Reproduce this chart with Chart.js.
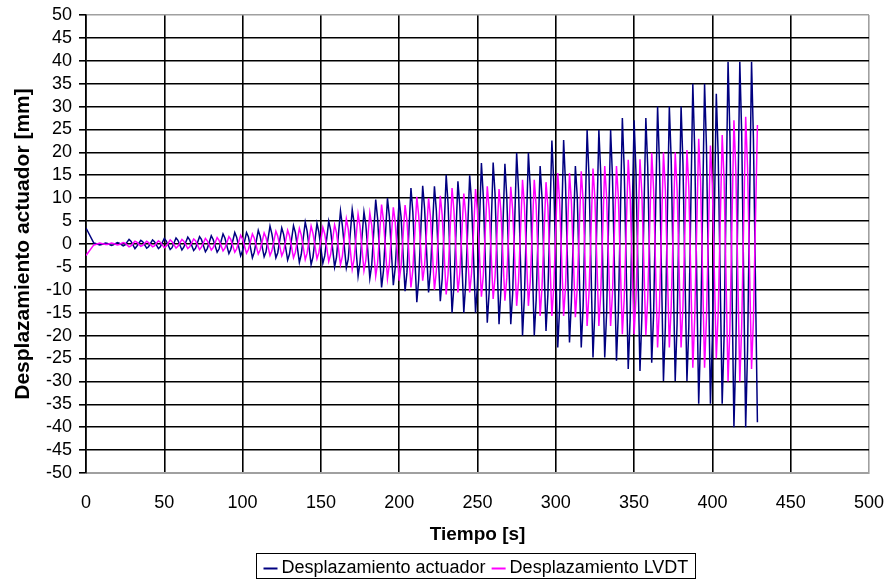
<!DOCTYPE html>
<html>
<head>
<meta charset="utf-8">
<title>Desplazamiento</title>
<script src="https://cdn.jsdelivr.net/npm/chart.js@4.4.1/dist/chart.umd.min.js"></script>
<style>
  html, body { margin: 0; padding: 0; background: #fff; }
  canvas { display: block; }
</style>
</head>
<body>
<canvas id="grafico" width="886" height="580"></canvas>
<script>
// Instantes [s]: por ciclo -> pico, retorno, valle, retorno
const tiempo = [0,
  5, 6.2, 8.75, 9.95,  12.5, 13.7, 16.25, 17.45,  20, 21.2, 23.75, 24.95,  27.5, 28.7, 31.25, 32.45,
  35, 36.2, 38.75, 39.95,  42.5, 43.7, 46.25, 47.45,  50, 51.2, 53.75, 54.95,  57.5, 58.7, 61.25, 62.45,
  65, 66.2, 68.75, 69.95,  72.5, 73.7, 76.25, 77.45,  80, 81.2, 83.75, 84.95,  87.5, 88.7, 91.25, 92.45,
  95, 96.2, 98.75, 99.95,  102.5, 103.7, 106.25, 107.45,  110, 111.2, 113.75, 114.95,  117.5, 118.7, 121.25, 122.45,
  125, 126.2, 128.75, 129.95,  132.5, 133.7, 136.25, 137.45,  140, 141.2, 143.75, 144.95,  147.5, 148.7, 151.25, 152.45,
  155, 156.2, 158.75, 159.95,  162.5, 163.7, 166.25, 167.45,  170, 171.2, 173.75, 174.95,  177.5, 178.7, 181.25, 182.45,
  185, 186.2, 188.75, 189.95,  192.5, 193.7, 196.25, 197.45,  200, 201.2, 203.75, 204.95,  207.5, 208.7, 211.25, 212.45,
  215, 216.2, 218.75, 219.95,  222.5, 223.7, 226.25, 227.45,  230, 231.2, 233.75, 234.95,  237.5, 238.7, 241.25, 242.45,
  245, 246.2, 248.75, 249.95,  252.5, 253.7, 256.25, 257.45,  260, 261.2, 263.75, 264.95,  267.5, 268.7, 271.25, 272.45,
  275, 276.2, 278.75, 279.95,  282.5, 283.7, 286.25, 287.45,  290, 291.2, 293.75, 294.95,  297.5, 298.7, 301.25, 302.45,
  305, 306.2, 308.75, 309.95,  312.5, 313.7, 316.25, 317.45,  320, 321.2, 323.75, 324.95,  327.5, 328.7, 331.25, 332.45,
  335, 336.2, 338.75, 339.95,  342.5, 343.7, 346.25, 347.45,  350, 351.2, 353.75, 354.95,  357.5, 358.7, 361.25, 362.45,
  365, 366.2, 368.75, 369.95,  372.5, 373.7, 376.25, 377.45,  380, 381.2, 383.75, 384.95,  387.5, 388.7, 391.25, 392.45,
  395, 396.2, 398.75, 399.95,  402.5, 403.7, 406.25, 407.45,  410, 411.2, 413.75, 414.95,  417.5, 418.7, 421.25, 422.45,
  425, 426.2, 428.75];

// Desplazamiento actuador [mm]
const actuador = [3.5,
  0.2, 0.1, -0.2, -0.1,  0.2, 0.1, -0.3, -0.2,  0.3, 0.2, -0.4, -0.2,  1.0, 0.6, -1.0, -0.5,
  0.8, 0.5, -0.9, -0.6,  0.9, 0.5, -1.0, -0.6,  1.2, 0.7, -1.2, -0.8,  1.3, 0.8, -1.3, -0.7,
  1.5, 0.9, -1.4, -0.9,  1.6, 1.0, -1.7, -1.0,  1.8, 1.0, -1.8, -1.1,  2.2, 1.3, -2.1, -1.2,
  2.5, 1.5, -2.6, -1.5,  2.5, 1.6, -3.0, -1.8,  3.0, 1.7, -2.8, -1.7,  3.9, 2.2, -3.0, -1.9,
  3.5, 2.1, -3.5, -2.2,  4.0, 2.5, -4.0, -2.3,  4.8, 2.8, -4.5, -2.8,  4.5, 2.6, -4.2, -2.6,
  5.0, 3.1, -5.0, -2.9,  7.2, 4.0, -5.2, -3.3,  7.5, 4.6, -7.0, -4.1,  7.0, 4.2, -7.5, -4.6,
  9.7, 5.6, -9.5, -5.8,  10.0, 6.1, -9.0, -5.2,  9.7, 5.9, -10.3, -6.2,  12.2, 7.0, -12.7, -7.8,
  12.7, 7.8, -10.6, -6.1,  12.6, 7.4, -12.5, -7.6,  15.1, 8.8, -15.0, -9.1,  13.7, 8.3, -15.0, -8.7,
  15.0, 9.2, -15.0, -9.0,  17.7, 10.4, -17.2, -10.5,  17.8, 10.9, -17.5, -10.1,  17.5, 10.2, -17.5, -10.8,
  19.9, 11.8, -20.0, -11.6,  19.9, 12.2, -20.0, -12.3,  17.0, 10.1, -19.0, -11.0,  22.6, 13.4, -22.6, -13.9,
  22.7, 13.1, -21.5, -12.6,  17.0, 10.3, -22.6, -13.5,  24.9, 14.8, -24.8, -14.4,  24.9, 15.3, -24.8, -15.1,
  24.9, 14.5, -25.5, -14.9,  27.5, 16.2, -27.3, -16.5,  27.0, 15.6, -27.7, -16.1,  27.5, 16.8, -25.9, -15.4,
  30.0, 17.6, -29.9, -18.2,  30.0, 18.3, -29.9, -17.4,  30.0, 17.5, -29.9, -18.0,  35.0, 20.6, -34.9, -20.2,
  35.0, 21.3, -34.9, -21.0,  32.8, 19.4, -34.9, -20.5,  39.8, 23.5, -40.0, -23.8,  39.8, 24.1, -40.0, -23.2,
  39.8, 23.0, -38.9];

// Desplazamiento LVDT [mm] (en contrafase con el actuador)
const lvdt = [-2.5,
  -0.2, -0.1, 0.2, 0.1,  -0.1, -0.1, 0.2, 0.1,  -0.2, -0.1, 0.3, 0.2,  -0.6, -0.4, 0.6, 0.4,
  -0.5, -0.3, 0.6, 0.3,  -0.6, -0.4, 0.7, 0.4,  -0.8, -0.5, 0.9, 0.5,  -0.9, -0.5, 1.0, 0.6,
  -1.0, -0.6, 1.1, 0.7,  -1.2, -0.7, 1.2, 0.7,  -1.3, -0.8, 1.4, 0.8,  -1.5, -0.9, 1.6, 1.0,
  -1.8, -1.1, 1.9, 1.1,  -2.0, -1.2, 2.2, 1.3,  -2.2, -1.3, 2.4, 1.4,  -2.5, -1.5, 2.8, 1.7,
  -2.6, -1.6, 3.0, 1.8,  -3.0, -1.8, 3.4, 2.0,  -3.4, -2.0, 3.9, 2.3,  -3.2, -1.9, 3.6, 2.2,
  -3.8, -2.3, 4.2, 2.5,  -4.5, -2.7, 5.5, 3.3,  -5.5, -3.3, 6.5, 3.9,  -5.8, -3.5, 6.8, 4.1,
  -7.0, -4.2, 8.6, 5.2,  -7.5, -4.5, 8.0, 4.8,  -8.0, -4.8, 8.5, 5.1,  -9.5, -5.7, 10.3, 6.2,
  -8.0, -4.8, 10.0, 6.0,  -10.0, -6.0, 10.5, 6.3,  -11.0, -6.6, 12.2, 7.3,  -10.6, -6.4, 11.0, 6.6,
  -10.6, -6.4, 12.0, 7.2,  -11.5, -6.9, 12.6, 7.6,  -12.0, -7.2, 12.0, 7.2,  -12.4, -7.4, 12.5, 7.5,
  -13.5, -8.1, 14.0, 8.4,  -13.5, -8.1, 14.0, 8.4,  -15.7, -9.4, 13.5, 8.1,  -15.7, -9.4, 15.5, 9.3,
  -15.7, -9.4, 15.5, 9.3,  -16.0, -9.6, 15.9, 9.5,  -17.9, -10.7, 16.5, 9.9,  -17.9, -10.7, 17.0, 10.2,
  -17.9, -10.7, 17.0, 10.2,  -19.7, -11.8, 18.4, 11.0,  -19.7, -11.8, 18.5, 11.1,  -19.9, -11.9, 19.9, 11.9,
  -22.6, -13.6, 20.0, 12.0,  -22.6, -13.6, 20.0, 12.0,  -22.6, -13.6, 20.5, 12.3,  -27.0, -16.2, 23.0, 13.8,
  -27.0, -16.2, 21.5, 12.9,  -25.0, -15.0, 23.8, 14.3,  -30.0, -18.0, 27.0, 16.2,  -30.0, -18.0, 27.8, 16.7,
  -27.3, -16.4, 26.0];

const fuente = '"Liberation Sans", Arial, sans-serif';

// Leyenda con recuadro, como en Excel
const leyendaCaja = {
  id: 'leyendaCaja',
  afterDraw(chart) {
    const c = chart.ctx;
    c.save();
    c.font = '18px ' + fuente;
    const series = chart.data.datasets;
    const muestra = 14, hueco = 4, sep = 6, pad = 7;
    let ancho = pad * 2;
    series.forEach((d, i) => {
      ancho += muestra + hueco + c.measureText(d.label).width + (i ? sep : 0);
    });
    const x0 = 256.5, y0 = 553.5, alto = 25;
    c.strokeStyle = '#000';
    c.lineWidth = 1;
    c.strokeRect(x0, y0, Math.round(ancho), alto);
    let x = x0 + pad;
    const yM = y0 + 15;
    series.forEach(d => {
      c.strokeStyle = d.borderColor;
      c.lineWidth = 2;
      c.beginPath();
      c.moveTo(x, yM);
      c.lineTo(x + muestra, yM);
      c.stroke();
      x += muestra + hueco;
      c.fillStyle = '#000';
      c.textBaseline = 'middle';
      c.fillText(d.label, x, yM);
      x += c.measureText(d.label).width + sep;
    });
    c.restore();
  }
};

const ctx = document.getElementById('grafico').getContext('2d');
const grafico = new Chart(ctx, {
  type: 'line',
  data: {
    datasets: [{
      label: 'Desplazamiento actuador',
      data: tiempo.map((t, i) => ({ x: t, y: actuador[i] })),
      borderColor: '#000080',
      borderWidth: 1.5,
      pointRadius: 0,
      tension: 0,
      order: 1
    }, {
      label: 'Desplazamiento LVDT',
      data: tiempo.map((t, i) => ({ x: t, y: lvdt[i] })),
      borderColor: '#ff00ff',
      borderWidth: 1.5,
      pointRadius: 0,
      tension: 0,
      order: 0
    }]
  },
  options: {
    responsive: false,
    animation: false,
    devicePixelRatio: 1,
    layout: { padding: { left: 0, right: 17, top: 15, bottom: 0 } },
    plugins: {
      legend: { display: false },
      tooltip: { enabled: false }
    },
    scales: {
      x: {
        type: 'linear',
        min: 0,
        max: 500,
        afterFit: s => { s.height = 107; },
        ticks: {
          stepSize: 50,
          autoSkip: false,
          maxRotation: 0,
          padding: 0,
          color: '#000',
          font: { family: fuente, size: 18 }
        },
        grid: {
          drawTicks: true,
          tickLength: 19,
          tickColor: 'rgba(0,0,0,0)',
          lineWidth: 1.6,
          color: c => (c.tick && c.tick.value === 500) ? '#a0a0a0' : '#000'
        },
        border: { color: '#a0a0a0', width: 1 },
        title: {
          display: true,
          text: 'Tiempo [s]',
          color: '#000',
          font: { family: fuente, size: 19, weight: 'bold' },
          padding: { top: 0, bottom: 34 }
        }
      },
      y: {
        type: 'linear',
        min: -50,
        max: 50,
        afterFit: s => { s.width = 86; },
        ticks: {
          stepSize: 5,
          autoSkip: false,
          padding: 7,
          color: '#000',
          font: { family: fuente, size: 18, lineHeight: 0.8 }
        },
        grid: {
          tickLength: 7,
          tickColor: '#000',
          lineWidth: 1.6,
          color: c => (c.tick && Math.abs(c.tick.value) === 50) ? '#a0a0a0' : '#000'
        },
        border: { color: '#000', width: 1.6 },
        title: {
          display: true,
          text: 'Desplazamiento actuador [mm]',
          color: '#000',
          font: { family: fuente, size: 21, weight: 'bold' },
          padding: { top: 11, bottom: 0 }
        }
      }
    }
  },
  plugins: [leyendaCaja]
});
</script>
</body>
</html>
